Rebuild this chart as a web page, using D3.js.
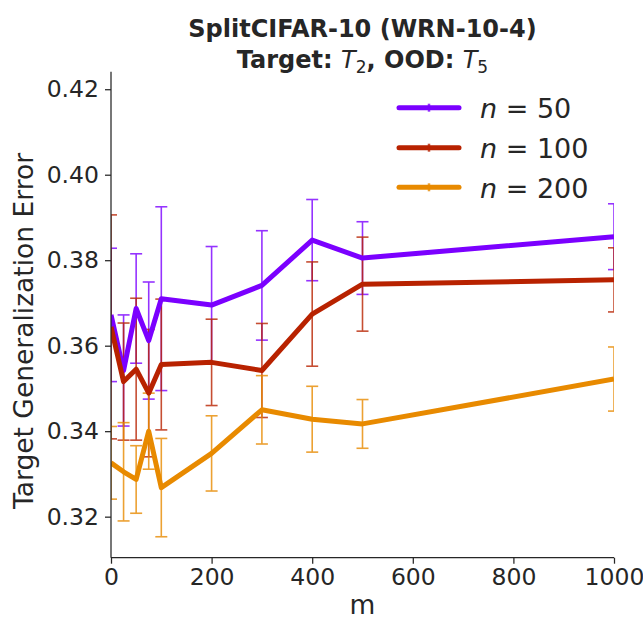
<!DOCTYPE html>
<html><head><meta charset="utf-8">
<script src="https://cdn.jsdelivr.net/npm/d3@7/dist/d3.min.js"></script>
<style>body{margin:0;background:#fff}svg{display:block}text{font-family:"DejaVu Sans",sans-serif;fill:#262626}</style>
</head><body>
<svg id="c" width="643" height="623"></svg>
<script>
const mValues = [0, 25, 50, 75, 100, 200, 300, 400, 500, 1000];
const seriesNames = ["50", "100", "200"];
const seriesColors = ["#7b00ff", "#b82200", "#e88a00"];
const meanN50  = [0.3672, 0.3542, 0.3687, 0.3612, 0.3710, 0.3695, 0.3741, 0.3847, 0.3805, 0.3855];
const errN50   = [0.0156, 0.0130, 0.0128, 0.0137, 0.0215, 0.0137, 0.0128, 0.0095, 0.0085, 0.0077];
const meanN100 = [0.3644, 0.3516, 0.3545, 0.3489, 0.3556, 0.3561, 0.3542, 0.3674, 0.3744, 0.3754];
const errN100  = [0.0262, 0.0137, 0.0166, 0.0149, 0.0153, 0.0101, 0.0110, 0.0122, 0.0110, 0.0075];
const meanN200 = [0.3326, 0.3305, 0.3287, 0.3400, 0.3268, 0.3348, 0.3450, 0.3428, 0.3417, 0.3522];
const errN200  = [0.0085, 0.0115, 0.0079, 0.0089, 0.0115, 0.0088, 0.0080, 0.0077, 0.0057, 0.0075];
const xTicks = [0, 200, 400, 600, 800, 1000];
const yTicks = [0.32, 0.34, 0.36, 0.38, 0.40, 0.42];

const means = [meanN50, meanN100, meanN200];
const errs = [errN50, errN100, errN200];

const svg = d3.select("#c");
const L = 111, R = 614, T = 71.7, B = 557.7;
const x = d3.scaleLinear().domain([0, 1000]).range([L, R]);
const y = d3.scaleLinear().domain([0.3104, 0.4241]).range([B, T]);

svg.append("defs").append("clipPath").attr("id", "clip")
  .append("rect").attr("x", L).attr("y", T).attr("width", R - L).attr("height", B - T);

const plot = svg.append("g").attr("clip-path", "url(#clip)");

// error bars (below lines)
means.forEach((mean, si) => {
  const g = plot.append("g").attr("stroke", seriesColors[si]).attr("stroke-width", 1.6).attr("opacity", 0.8);
  mValues.forEach((m, i) => {
    const lo = mean[i] - errs[si][i], hi = mean[i] + errs[si][i];
    g.append("line").attr("x1", x(m)).attr("x2", x(m)).attr("y1", y(lo)).attr("y2", y(hi));
    g.append("line").attr("x1", x(m) - 6).attr("x2", x(m) + 6).attr("y1", y(lo)).attr("y2", y(lo));
    g.append("line").attr("x1", x(m) - 6).attr("x2", x(m) + 6).attr("y1", y(hi)).attr("y2", y(hi));
  });
});

// lines
const line = d3.line().x(d => x(d[0])).y(d => y(d[1]));
means.forEach((mean, si) => {
  plot.append("path").datum(mValues.map((m, i) => [m, mean[i]]))
    .attr("d", line).attr("fill", "none").attr("stroke", seriesColors[si])
    .attr("stroke-width", 5).attr("stroke-linejoin", "round").attr("stroke-linecap", "butt");
});

// axes
const xAxis = svg.append("g").attr("transform", `translate(0,${B})`)
  .call(d3.axisBottom(x).tickValues(xTicks).tickFormat(d3.format("d")).tickSizeInner(6).tickSizeOuter(0).tickPadding(5));
const yAxis = svg.append("g").attr("transform", `translate(${L},0)`)
  .call(d3.axisLeft(y).tickValues(yTicks).tickFormat(d3.format(".2f")).tickSizeInner(6).tickSizeOuter(0).tickPadding(6));
[xAxis, yAxis].forEach(a => {
  a.select(".domain").attr("stroke", "#262626").attr("stroke-width", 1.25);
  a.selectAll(".tick line").attr("stroke", "#262626").attr("stroke-width", 1.25);
  a.selectAll(".tick text").attr("font-family", "DejaVu Sans").attr("font-size", 23.5).attr("fill", "#262626");
});
yAxis.select(".domain").attr("d", `M0,${B}V${T}`);
xAxis.select(".domain").attr("d", `M${L},0H${R}`);

// axis labels
svg.append("text").attr("x", (L + R) / 2).attr("y", 614).attr("text-anchor", "middle")
  .attr("font-size", 26.5).text("m");
svg.append("text").attr("transform", `translate(33,331) rotate(-90)`).attr("text-anchor", "middle")
  .attr("font-size", 26.5).text("Target Generalization Error");

// title
const cx = (L + R) / 2;
svg.append("text").attr("x", cx).attr("y", 37).attr("text-anchor", "middle")
  .attr("font-size", 24).attr("font-weight", "bold").text("SplitCIFAR-10 (WRN-10-4)");
const t2 = svg.append("text").attr("x", cx).attr("y", 68).attr("text-anchor", "middle")
  .attr("font-size", 24).attr("font-weight", "bold");
t2.append("tspan").text("Target: ");
t2.append("tspan").attr("font-style", "italic").attr("font-weight", "normal").text("T");
t2.append("tspan").attr("font-weight", "normal").attr("font-size", 17).attr("dy", 5).text("2");
t2.append("tspan").attr("dy", -5).text(", OOD: ");
t2.append("tspan").attr("font-style", "italic").attr("font-weight", "normal").text("T");
t2.append("tspan").attr("font-weight", "normal").attr("font-size", 17).attr("dy", 5).text("5");

// legend
const legY = [107.7, 147.7, 187.3];
seriesNames.forEach((nm, si) => {
  const g = svg.append("g").attr("transform", `translate(0,${legY[si]})`);
  g.append("line").attr("x1", 399).attr("x2", 459).attr("y1", 0).attr("y2", 0)
    .attr("stroke", seriesColors[si]).attr("stroke-width", 5).attr("stroke-linecap", "round");
  g.append("line").attr("x1", 429).attr("x2", 429).attr("y1", -4).attr("y2", 4)
    .attr("stroke", seriesColors[si]).attr("stroke-width", 2.5).attr("opacity", 0.8);
  const t = g.append("text").attr("x", 480).attr("y", 10.5).attr("font-size", 27);
  t.append("tspan").attr("font-style", "italic").text("n");
  t.append("tspan").text(" = " + nm);
});
</script>
</body></html>
